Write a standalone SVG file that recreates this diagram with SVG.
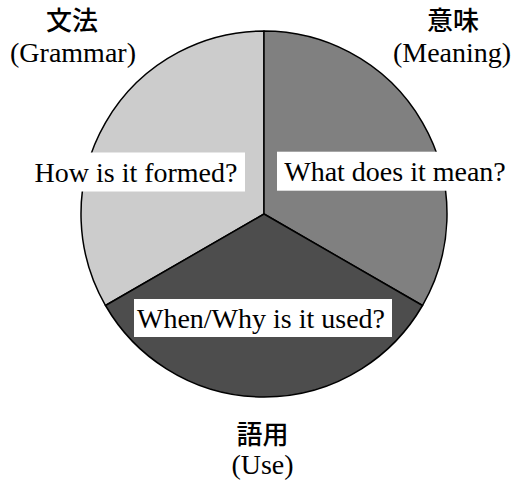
<svg xmlns="http://www.w3.org/2000/svg" width="519" height="481" viewBox="0 0 519 481">
  <style>
    .sec { stroke: #000; stroke-width: 1.5; stroke-linejoin: round; }
    .box { fill: #fff; }
    .q { font-family: 'Liberation Serif', 'DejaVu Serif', serif; font-size: 28px; fill: #000; text-anchor: middle; }
    .ja { font-family: 'Noto Sans CJK JP', 'Noto Sans CJK SC', sans-serif; font-size: 26px; font-weight: 500; fill: #000; text-anchor: middle; }
  </style>
  <rect width="519" height="481" fill="#fff"/>
  <g id="grammar">
    <path class="sec" d="M264,214 L264,31 A183,183 0 0 0 105.52,305.5 Z" fill="#cccccc"/>
  </g>
  <g id="meaning">
    <path class="sec" d="M264,214 L264,31 A183,183 0 0 1 422.48,305.5 Z" fill="#808080"/>
  </g>
  <g id="use">
    <path class="sec" d="M264,214 L105.52,305.5 A183,183 0 0 0 422.48,305.5 Z" fill="#4d4d4d"/>
  </g>
  <g id="grammar-label">
    <text class="ja" x="72" y="30">文法</text>
    <text class="q" x="73" y="62">(Grammar)</text>
    <rect class="box" x="27" y="152.5" width="218" height="39"/>
    <text class="q" x="136" y="182">How is it formed?</text>
  </g>
  <g id="meaning-label">
    <text class="ja" x="453" y="30">意味</text>
    <text class="q" x="452" y="62">(Meaning)</text>
    <rect class="box" x="277" y="151.7" width="236" height="39"/>
    <text class="q" x="395" y="181">What does it mean?</text>
  </g>
  <g id="use-label">
    <rect class="box" x="134" y="299" width="258" height="38"/>
    <text class="q" x="261" y="328">When/Why is it used?</text>
    <text class="ja" x="262.5" y="444">語用</text>
    <text class="q" x="262.5" y="474">(Use)</text>
  </g>
</svg>
